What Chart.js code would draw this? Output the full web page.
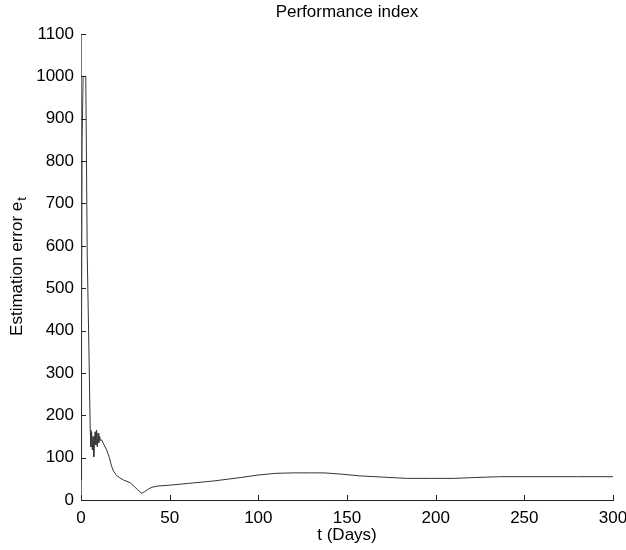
<!DOCTYPE html>
<html>
<head>
<meta charset="utf-8">
<script src="https://cdn.jsdelivr.net/npm/chart.js@4/dist/chart.umd.min.js"></script>
<style>
  html, body { margin: 0; padding: 0; background: #fff; overflow: hidden; }
  #wrap { width: 660px; height: 550px; position: relative; }
</style>
</head>
<body>
<div id="wrap"><canvas id="chart"></canvas></div>
<script>
// ── data ──────────────────────────────────────────
const days = [0, 0.3, 0.6, 1.2, 2.7, 3.5, 4.5, 5.2, 5.6, 6.0, 6.4, 6.8, 7.2, 7.6, 8.0, 8.4,
  8.8, 9.2, 9.6, 10.0, 10.5, 11.0, 11.6, 13, 14.5, 16, 17.3, 18.5, 20, 22, 24, 26.5, 28, 30,
  32, 34.2, 36, 38, 40, 43.4, 50, 60, 75, 90, 100, 110, 120, 130, 137, 147, 157, 170, 184,
  197, 210, 222, 236, 260, 280, 300];
const errorVals = [47, 400, 843, 1000, 1000, 583, 347, 165, 125, 160, 118, 150, 102, 140, 161, 130,
  165, 125, 158, 135, 150, 140, 142, 130, 118, 100, 79, 67, 58, 52, 47, 43, 40, 32,
  24, 16, 20, 26, 30, 33, 35, 39, 45, 53, 59, 63, 64, 64, 64, 61, 57, 54, 51,
  51, 51, 53, 55, 55, 55, 55];
const xTicks = [0, 50, 100, 150, 200, 250, 300];
const yTicks = [0, 100, 200, 300, 400, 500, 600, 700, 800, 900, 1000, 1100];

const FONT = 'Liberation Sans, Arial, sans-serif';
const points = days.map((d, i) => ({ x: d, y: errorVals[i] }));

// inward tick marks, title and subscripted y label
const decor = {
  id: 'decor',
  afterDraw(chart) {
    const { ctx, chartArea: a, scales: { x, y } } = chart;
    ctx.save();
    ctx.strokeStyle = '#222';
    ctx.lineWidth = 1;
    ctx.beginPath();
    xTicks.forEach(v => {
      const px = Math.round(x.getPixelForValue(v)) + 0.5;
      ctx.moveTo(px, a.bottom); ctx.lineTo(px, a.bottom - 5);
    });
    yTicks.forEach(v => {
      const py = Math.round(y.getPixelForValue(v)) + 0.5;
      ctx.moveTo(a.left, py); ctx.lineTo(a.left + 5, py);
    });
    ctx.stroke();

    ctx.fillStyle = '#000';
    ctx.font = '17px ' + FONT;
    ctx.textAlign = 'center';
    ctx.textBaseline = 'middle';
    ctx.fillText('Performance index', (a.left + a.right) / 2, 12);

    // y title: "Estimation error e" + subscript t
    const main = 'Estimation error e';
    ctx.font = '17px ' + FONT;
    const w1 = ctx.measureText(main).width;
    ctx.font = '13px ' + FONT;
    const w2 = ctx.measureText('t').width;
    ctx.translate(17, (a.top + a.bottom) / 2);
    ctx.rotate(-Math.PI / 2);
    ctx.textAlign = 'left';
    ctx.font = '17px ' + FONT;
    ctx.fillText(main, -(w1 + w2) / 2, 0);
    ctx.font = '13px ' + FONT;
    ctx.fillText('t', -(w1 + w2) / 2 + w1 + 1, 5);
    ctx.restore();
  }
};

new Chart(document.getElementById('chart'), {
  type: 'scatter',
  data: {
    datasets: [{
      data: points,
      showLine: true,
      borderColor: '#333',
      borderWidth: 1,
      pointRadius: 0,
      tension: 0,
      fill: false
    }]
  },
  options: {
    responsive: true,
    maintainAspectRatio: false,
    animation: false,
    layout: { padding: { top: 34, right: 47, left: 0, bottom: 0 } },
    plugins: { legend: { display: false }, tooltip: { enabled: false }, title: { display: false } },
    scales: {
      x: {
        type: 'linear', min: 0, max: 300,
        afterFit: s => { s.height = 50; },
        afterBuildTicks: s => { s.ticks = xTicks.map(v => ({ value: v })); },
        border: { display: true, color: '#222', width: 1 },
        grid: { drawOnChartArea: false, drawTicks: false },
        ticks: { color: '#000', padding: 8, maxRotation: 0, autoSkip: false,
          callback: v => String(v), font: { family: FONT, size: 17 } },
        title: { display: true, text: 't (Days)', color: '#000', padding: { top: 0, bottom: 4 }, font: { family: FONT, size: 17 } }
      },
      y: {
        min: 0, max: 1100,
        afterFit: s => { s.width = 81; },
        afterBuildTicks: s => { s.ticks = yTicks.map(v => ({ value: v })); },
        border: { display: true, color: '#777', width: 1 },
        grid: { drawOnChartArea: false, drawTicks: false },
        ticks: { color: '#000', padding: 7, autoSkip: false,
          callback: v => String(v), font: { family: FONT, size: 17 } }
      }
    }
  },
  plugins: [decor]
});
</script>
</body>
</html>
